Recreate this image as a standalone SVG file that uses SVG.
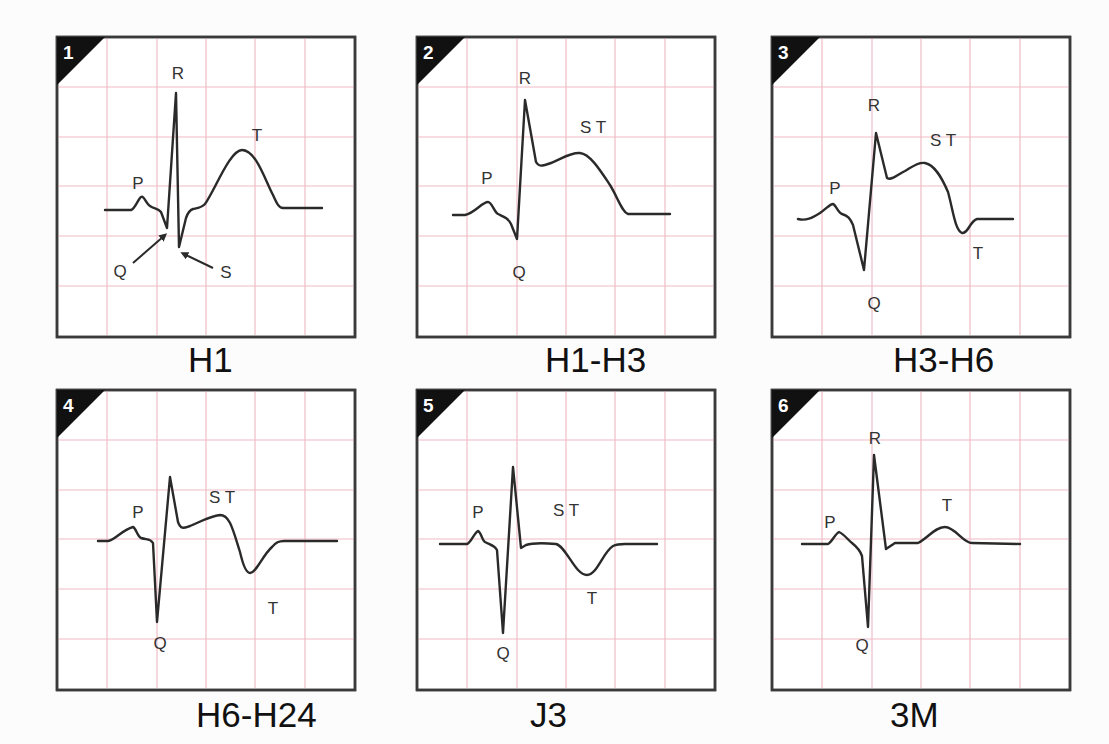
<svg xmlns="http://www.w3.org/2000/svg" width="1109" height="744" viewBox="0 0 1109 744">
<style>
.frame{fill:#fff;stroke:#3a3a3a;stroke-width:2.5}
.grid line{stroke:#efbcc6;stroke-width:1.2}
.corner{fill:#111}
.num{font-family:"Liberation Sans",Arial,sans-serif;font-weight:bold;font-size:19px;fill:#fff}
.wave{fill:none;stroke:#2a2a2a;stroke-width:2.4;stroke-linejoin:round;stroke-linecap:round}
.lbl{font-family:"Liberation Sans",Arial,sans-serif;font-size:17px;fill:#333;text-anchor:middle}
.cap{font-family:"Liberation Sans",Arial,sans-serif;font-size:35px;fill:#111}
.arrow{stroke:#2a2a2a;stroke-width:2;fill:none}
</style>
<defs>
<g id="grid" class="grid">
<line x1="50" y1="0" x2="50" y2="298"/><line x1="100" y1="0" x2="100" y2="298"/><line x1="149" y1="0" x2="149" y2="298"/><line x1="198" y1="0" x2="198" y2="298"/><line x1="248" y1="0" x2="248" y2="298"/>
<line x1="0" y1="50" x2="298" y2="50"/><line x1="0" y1="100" x2="298" y2="100"/><line x1="0" y1="149" x2="298" y2="149"/><line x1="0" y1="199" x2="298" y2="199"/><line x1="0" y1="249" x2="298" y2="249"/>
</g>
<g id="panelbase">
<rect class="frame" x="0" y="0" width="298" height="300"/>
<use href="#grid"/>
<rect x="0" y="0" width="298" height="300" fill="none" stroke="#3a3a3a" stroke-width="2.5"/>
<path class="corner" d="M0,0 L48,0 L0,48 Z"/>
</g>
<marker id="dot" viewBox="0 0 10 10" refX="5" refY="5" markerWidth="4" markerHeight="4" orient="auto"><path d="M0,0 L10,5 L0,10 Z" fill="#2a2a2a"/></marker>
</defs>
<rect width="1109" height="744" fill="#fcfcfc"/>

<g id="panel1">
<use href="#panelbase" x="57" y="37"/>
<text class="num" x="63" y="59">1</text>
<path class="wave" d="M105,210 L131,210 C135,209 138,199 141,197 C144,195 146,204 150,206 C154,209 158,208 161,212 L167,228 L176,93 L179,247 L186,218 C188,212 190,210 193,209 C198,208 201,208 205,204 C215,190 230,150 242,150 C256,150 265,180 273,195 C277,204 279,208 283,208 L322,208"/>
<text class="lbl" x="178" y="79">R</text>
<text class="lbl" x="138" y="189">P</text>
<text class="lbl" x="257" y="141">T</text>
<text class="lbl" x="120" y="277">Q</text>
<text class="lbl" x="226" y="278">S</text>
<text class="cap" x="188" y="372">H1</text>
</g>

<g id="panel2">
<use href="#panelbase" x="417" y="37"/>
<text class="num" x="423" y="59">2</text>
<path class="wave" d="M453,215 L465,215 C475,213 482,202 488,202 C492,202 494,212 498,214 C504,217 508,218 511,224 L517,239 L525,100 L536,162 C539,167 542,166 548,164 C560,160 570,152 580,153 C590,154 600,170 610,185 C618,198 622,212 628,214 L670,214"/>
<text class="lbl" x="525" y="84">R</text>
<text class="lbl" x="487" y="184">P</text>
<text class="lbl" x="593" y="133">S T</text>
<text class="lbl" x="519" y="278">Q</text>
<text class="cap" x="545" y="372">H1-H3</text>
</g>

<g id="panel3">
<use href="#panelbase" x="772" y="37"/>
<text class="num" x="778" y="59">3</text>
<path class="wave" d="M798,219 C806,221 812,218 820,213 C826,209 830,204 833,204 C836,205 838,213 842,214 C848,216 850,218 853,225 L864,270 L876,133 L887,178 C892,181 898,174 905,171 C912,167 918,162 925,163 C935,165 942,178 948,192 C953,210 955,230 962,233 C968,234 970,221 977,219 L1013,219"/>
<text class="lbl" x="874" y="111">R</text>
<text class="lbl" x="835" y="194">P</text>
<text class="lbl" x="943" y="146">S T</text>
<text class="lbl" x="978" y="259">T</text>
<text class="lbl" x="874" y="309">Q</text>
<text class="cap" x="893" y="372">H3-H6</text>
</g>

<g id="panel4">
<use href="#panelbase" x="57" y="390"/>
<text class="num" x="63" y="412">4</text>
<path class="wave" d="M98,541 L108,541 C115,540 122,530 133,527 C136,528 137,536 141,538 C147,540 150,538 153,543 L157,622 L170,477 L178,522 C181,530 184,528 190,526 C200,522 210,516 220,515 C230,515 233,530 240,552 C243,565 246,573 250,573 C257,572 262,556 272,547 C276,542 279,541 284,541 L337,541"/>
<text class="lbl" x="138" y="518">P</text>
<text class="lbl" x="222" y="503">S T</text>
<text class="lbl" x="273" y="614">T</text>
<text class="lbl" x="160" y="649">Q</text>
<text class="cap" x="196" y="727">H6-H24</text>
</g>

<g id="panel5">
<use href="#panelbase" x="417" y="390"/>
<text class="num" x="423" y="412">5</text>
<path class="wave" d="M440,544 L467,544 C471,543 474,533 478,531 C481,532 482,540 485,542 C490,545 494,545 497,550 L503,633 L513,467 L521,548 L526,545 C532,543 545,543 556,544 C566,546 575,575 587,575 C597,575 603,552 613,546 C617,544 620,544 625,544 L657,544"/>
<text class="lbl" x="478" y="518">P</text>
<text class="lbl" x="566" y="516">S T</text>
<text class="lbl" x="592" y="604">T</text>
<text class="lbl" x="503" y="659">Q</text>
<text class="cap" x="530" y="727">J3</text>
</g>

<g id="panel6">
<use href="#panelbase" x="772" y="390"/>
<text class="num" x="778" y="412">6</text>
<path class="wave" d="M802,544 L828,544 C832,542 835,534 839,532 C844,534 848,540 852,543 C857,547 860,550 862,556 L868,627 L874,455 L886,549 L895,543 L918,543 C928,538 935,527 945,527 C955,527 963,543 972,543 L1020,544"/>
<text class="lbl" x="875" y="444">R</text>
<text class="lbl" x="830" y="528">P</text>
<text class="lbl" x="947" y="511">T</text>
<text class="lbl" x="862" y="651">Q</text>
<text class="cap" x="890" y="727">3M</text>
</g>

<g id="connectors">
<line class="arrow" x1="133" y1="263" x2="164" y2="236" marker-end="url(#dot)"/>
<line class="arrow" x1="213" y1="268" x2="184" y2="254" marker-end="url(#dot)"/>
</g>
</svg>
